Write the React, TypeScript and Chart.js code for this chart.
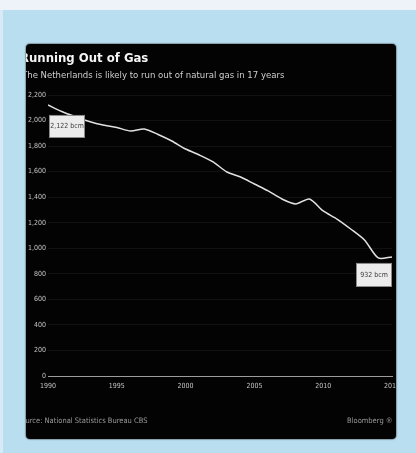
import React, { useEffect, useRef } from "react";
import { Chart, registerables } from "chart.js";

Chart.register(...registerables);

const years = [
  1990, 1991, 1992, 1993, 1994, 1995, 1996, 1997, 1998, 1999, 2000, 2001, 2002,
  2003, 2004, 2005, 2006, 2007, 2008, 2009, 2010, 2011, 2012, 2013, 2014, 2015,
];
const reserves = [
  2122, 2071, 2030, 1993, 1965, 1946, 1918, 1934, 1891, 1840, 1777, 1730, 1676,
  1597, 1558, 1503, 1449, 1386, 1347, 1386, 1292, 1229, 1151, 1065, 924, 932,
];
const xTicks = [1990, 1995, 2000, 2005, 2010, 2015];
const yTicks = [0, 200, 400, 600, 800, 1000, 1200, 1400, 1600, 1800, 2000, 2200];
const unit = "bcm";
const title = "Running Out of Gas";
const subtitle = "The Netherlands is likely to run out of natural gas in 17 years";
const source = "Source: National Statistics Bureau CBS";
const credit = "Bloomberg \u00AE";

const FONT = '"DejaVu Sans Condensed", "DejaVu Sans", sans-serif';
const TICK_COLOR = "#c4c4c4";

export default function App() {
  const ref = useRef<HTMLCanvasElement>(null);

  useEffect(() => {
    const endLabels = {
      id: "endLabels",
      afterDatasetsDraw(chart: any) {
        const ctx = chart.ctx;
        const meta = chart.getDatasetMeta(0);
        const first = meta.data[0];
        const last = meta.data[meta.data.length - 1];
        const draw = (x: number, y: number, w: number, h: number, text: string) => {
          ctx.save();
          ctx.fillStyle = "#ececec";
          ctx.fillRect(x, y, w, h);
          ctx.strokeStyle = "#8a8a8a";
          ctx.lineWidth = 1;
          ctx.strokeRect(Math.round(x) + 0.5, Math.round(y) + 0.5, w - 1, h - 1);
          ctx.fillStyle = "#3a3a3a";
          ctx.font = `7px ${FONT}`;
          ctx.textAlign = "center";
          ctx.textBaseline = "middle";
          ctx.fillText(text, x + w / 2, y + h / 2);
          ctx.restore();
        };
        draw(first.x + 1, first.y + 10, 36, 23, `${reserves[0].toLocaleString("en-US")} ${unit}`);
        draw(
          last.x - 36,
          last.y + 6,
          36,
          24,
          `${reserves[reserves.length - 1].toLocaleString("en-US")} ${unit}`
        );
      },
    };

    const chart = new Chart(ref.current as HTMLCanvasElement, {
      type: "line",
      data: {
        datasets: [
          {
            data: years.map((y, i) => ({ x: y, y: reserves[i] })),
            borderColor: "#e2e2e2",
            borderWidth: 1.5,
            pointRadius: 0,
            tension: 0.25,
            fill: false,
          },
        ],
      },
      options: {
        animation: false,
        responsive: false,
        maintainAspectRatio: false,
        devicePixelRatio: 1,
        layout: { padding: { top: 51, left: 0, right: 4, bottom: 0 } },
        plugins: { legend: { display: false }, tooltip: { enabled: false } },
        scales: {
          x: {
            type: "linear",
            min: 1990,
            max: 2015,
            afterBuildTicks: (s: any) => {
              s.ticks = xTicks.map((v) => ({ value: v }));
            },
            afterFit: (s: any) => {
              s.height = 63;
              s.paddingLeft = 0;
              s.paddingRight = 0;
            },
            ticks: {
              color: TICK_COLOR,
              font: { family: FONT, size: 7 },
              padding: 6,
              maxRotation: 0,
              autoSkip: false,
              callback: (v: any) => String(v),
            },
            grid: { display: false, drawTicks: false },
            border: { color: "#9c9c9c", width: 1 },
          },
          y: {
            min: 0,
            max: 2200,
            afterBuildTicks: (s: any) => {
              s.ticks = yTicks.map((v) => ({ value: v }));
            },
            afterFit: (s: any) => {
              s.width = 22;
            },
            ticks: {
              color: TICK_COLOR,
              font: { family: FONT, size: 7 },
              padding: 2,
              callback: (v: any) => Number(v).toLocaleString("en-US"),
            },
            grid: { color: "rgba(255,255,255,0.06)", drawTicks: false },
            border: { display: false },
          },
        },
      },
      plugins: [endLabels],
    } as any);
    return () => chart.destroy();
  }, []);

  return (
    <div
      style={{
        position: "absolute",
        left: 0,
        top: 0,
        width: 416,
        height: 453,
        background: "#b9deef",
        overflow: "hidden",
      }}
    >
      <div style={{ position: "absolute", left: 0, top: 0, width: 416, height: 10, background: "#edf3f8" }} />
      <div style={{ position: "absolute", left: 0, top: 10, width: 3, height: 443, background: "#d6ebf5" }} />
      <div
        style={{
          position: "absolute",
          left: 26,
          top: 44,
          width: 370,
          height: 395,
          background: "#030303",
          borderRadius: 4,
          overflow: "hidden",
          boxShadow: "0 0 1px 1px rgba(80,90,100,0.5)",
          filter: "blur(0.4px)",
        }}
      >
        <canvas
          ref={ref}
          width={370}
          height={395}
          style={{ position: "absolute", left: 0, top: 0, display: "block" }}
        />
        <div
          style={{
            position: "absolute",
            left: -6,
            top: 6,
            whiteSpace: "nowrap",
            color: "#f4f4f4",
            fontFamily: FONT,
            fontWeight: "bold",
            fontSize: 13,
            lineHeight: "16px",
          }}
        >
          {title}
        </div>
        <div
          style={{
            position: "absolute",
            left: -4,
            top: 25,
            whiteSpace: "nowrap",
            color: "#cfcfcf",
            fontFamily: FONT,
            fontSize: 9.5,
            lineHeight: "12px",
          }}
        >
          {subtitle}
        </div>
        <div
          style={{
            position: "absolute",
            left: -9,
            top: 372,
            whiteSpace: "nowrap",
            color: "#9a9a9a",
            fontFamily: FONT,
            fontSize: 7.5,
            lineHeight: "10px",
          }}
        >
          {source}
        </div>
        <div
          style={{
            position: "absolute",
            left: 321,
            top: 372,
            whiteSpace: "nowrap",
            color: "#9a9a9a",
            fontFamily: FONT,
            fontSize: 7.5,
            lineHeight: "10px",
          }}
        >
          {credit}
        </div>
      </div>
    </div>
  );
}
